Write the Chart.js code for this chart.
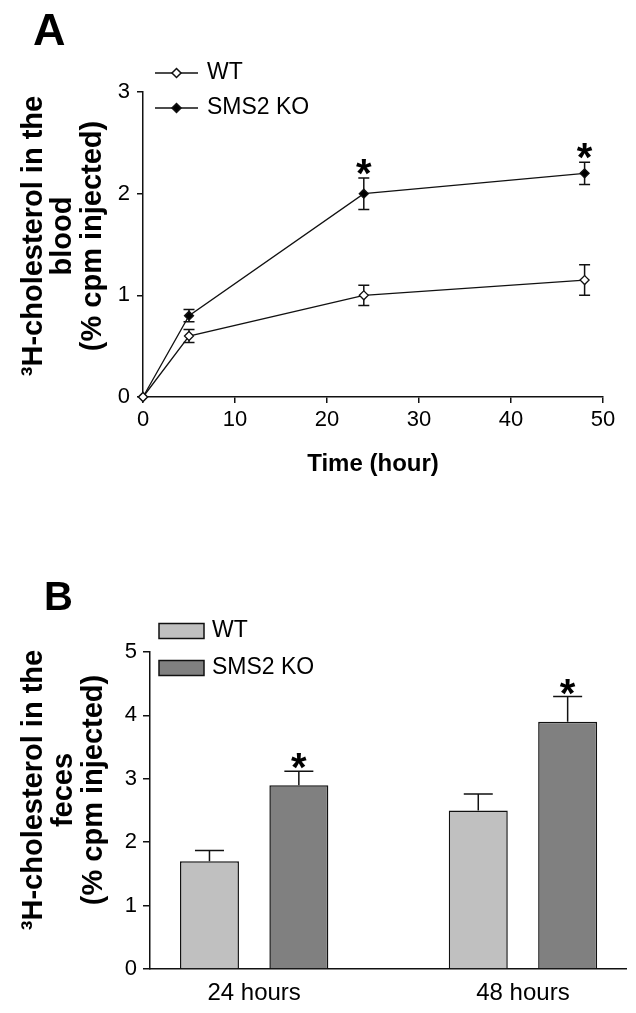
<!DOCTYPE html>
<html>
<head>
  <meta charset="UTF-8" />
  <title>3H-cholesterol in blood and feces</title>
  <script src="https://cdn.jsdelivr.net/npm/chart.js"></script>
  <style>
    body { margin: 0; background: #fff; }
    canvas { position: absolute; left: 0; }
    #chartA { top: 0; }
    #chartB { top: 560px; }
  </style>
</head>
<body>
  <canvas id="chartA" width="636" height="520"></canvas>
  <canvas id="chartB" width="636" height="453"></canvas>

  <script>
    // Panel A - label in the blood over time
    const hoursA = [0, 5, 24, 48];
    const wtBlood = [0, 0.6, 1.0, 1.15];
    const wtBloodErr = [0, 0.065, 0.1, 0.15];
    const koBlood = [0, 0.8, 2.0, 2.2];
    const koBloodErr = [0, 0.06, 0.155, 0.11];
    const koBloodSig = [false, false, true, true];

    // Panel B - label in the feces
    const categories = ['24 hours', '48 hours'];
    const hoursB = [24, 48];
    const wtFeces = [1.7, 2.5];
    const wtFecesErr = [0.17, 0.26];
    const koFeces = [2.9, 3.9];
    const koFecesErr = [0.22, 0.4];
    const koFecesSig = [true, true];

    const FONT = '"Liberation Sans", Arial, sans-serif';
    Chart.defaults.font.family = FONT;
    Chart.defaults.color = '#000';

    const ink = '#111';

    function points(xs, ys) {
      return xs.map((x, i) => ({ x: x, y: ys[i] }));
    }

    function diamond(ctx, x, y, r, fill) {
      ctx.beginPath();
      ctx.moveTo(x, y - r);
      ctx.lineTo(x + r, y);
      ctx.lineTo(x, y + r);
      ctx.lineTo(x - r, y);
      ctx.closePath();
      ctx.fillStyle = fill;
      ctx.fill();
      ctx.stroke();
    }

    // error bars, asterisks, legend, panel letter and y title
    const extras = {
      id: 'extras',
      beforeDatasetsDraw(chart, args, opts) {
        const ctx = chart.ctx;
        const yScale = chart.scales.y;
        chart.data.datasets.forEach((ds, i) => {
          if (!ds.errors) return;
          const meta = chart.getDatasetMeta(i);
          ctx.save();
          ctx.strokeStyle = ink;
          ctx.lineWidth = 1.5;
          meta.data.forEach((el, j) => {
            const e = ds.errors[j];
            const v = ds.data[j].y;
            const top = yScale.getPixelForValue(v + e);
            const bot = yScale.getPixelForValue(ds.oneSided ? v : v - e);
            const half = opts.capWidth / 2;
            if (e > 0) {
              ctx.beginPath();
              ctx.moveTo(el.x, top);
              ctx.lineTo(el.x, bot);
              ctx.moveTo(el.x - half, top);
              ctx.lineTo(el.x + half, top);
              if (!ds.oneSided) {
                ctx.moveTo(el.x - half, bot);
                ctx.lineTo(el.x + half, bot);
              }
              ctx.stroke();
            }
            if (ds.sig && ds.sig[j]) {
              ctx.fillStyle = '#000';
              ctx.font = 'bold ' + opts.starSize + 'px ' + FONT;
              ctx.textAlign = 'center';
              ctx.textBaseline = 'alphabetic';
              ctx.fillText('*', el.x, top - opts.starGap + 0.58 * opts.starSize);
            }
          });
          ctx.restore();
        });
      },
      afterDraw(chart, args, opts) {
        const ctx = chart.ctx;
        ctx.save();

        // panel letter
        ctx.fillStyle = '#000';
        ctx.font = 'bold ' + opts.letter.size + 'px ' + FONT;
        ctx.textAlign = 'left';
        ctx.textBaseline = 'alphabetic';
        ctx.fillText(opts.letter.text, opts.letter.x, opts.letter.y);

        // legend
        const lg = opts.legend;
        ctx.font = lg.size + 'px ' + FONT;
        ctx.textBaseline = 'middle';
        chart.data.datasets.forEach((ds, i) => {
          const y = lg.ys[i];
          ctx.strokeStyle = ink;
          ctx.lineWidth = 1.5;
          if (lg.kind === 'line') {
            ctx.beginPath();
            ctx.moveTo(lg.x, y);
            ctx.lineTo(lg.x + lg.w, y);
            ctx.stroke();
            diamond(ctx, lg.x + lg.w / 2, y, ds.pointRadius, ds.pointBackgroundColor);
          } else {
            ctx.fillStyle = ds.backgroundColor;
            ctx.fillRect(lg.x, y - lg.h / 2, lg.w, lg.h);
            ctx.strokeRect(lg.x, y - lg.h / 2, lg.w, lg.h);
          }
          ctx.fillStyle = '#000';
          ctx.fillText(ds.label, lg.x + lg.w + lg.gap, y);
        });

        // rotated multi-line y title
        const yt = opts.yTitle;
        ctx.font = 'bold ' + yt.size + 'px ' + FONT;
        ctx.textAlign = 'center';
        ctx.textBaseline = 'alphabetic';
        yt.lines.forEach((line, i) => {
          ctx.save();
          ctx.translate(yt.baselines[i], yt.cy);
          ctx.rotate(-Math.PI / 2);
          ctx.fillText(line, 0, 0);
          ctx.restore();
        });

        ctx.restore();
      }
    };

    const axisGrid = {
      drawOnChartArea: false,
      tickLength: 6,
      color: ink,
      lineWidth: 1.5
    };
    const axisBorder = { color: ink, width: 1.5 };

    new Chart(document.getElementById('chartA'), {
      type: 'line',
      data: {
        datasets: [
          {
            label: 'WT',
            data: points(hoursA, wtBlood),
            errors: wtBloodErr,
            borderColor: ink,
            borderWidth: 1.3,
            pointStyle: 'rectRot',
            pointRadius: 4.5,
            pointBackgroundColor: '#fff',
            pointBorderColor: ink,
            pointBorderWidth: 1.3,
            tension: 0,
            clip: false
          },
          {
            label: 'SMS2 KO',
            data: points(hoursA, koBlood),
            errors: koBloodErr,
            sig: koBloodSig,
            borderColor: ink,
            borderWidth: 1.3,
            pointStyle: 'rectRot',
            pointRadius: 4.5,
            pointBackgroundColor: '#000',
            pointBorderColor: ink,
            pointBorderWidth: 1.3,
            tension: 0,
            clip: false
          }
        ]
      },
      options: {
        responsive: false,
        animation: false,
        layout: { padding: { left: 0, top: 92, right: 33, bottom: 0 } },
        plugins: {
          legend: { display: false },
          tooltip: { enabled: false },
          extras: {
            capWidth: 11,
            starSize: 40,
            starGap: 14,
            letter: { text: 'A', x: 33, y: 45, size: 45 },
            legend: { kind: 'line', x: 155, w: 43, gap: 9, ys: [73, 108], size: 23 },
            yTitle: {
              lines: ['\u00b3H-cholesterol in the', 'blood', '(% cpm injected)'],
              baselines: [42, 71, 101],
              cy: 236,
              size: 29
            }
          }
        },
        scales: {
          x: {
            type: 'linear',
            min: 0,
            max: 50,
            ticks: { stepSize: 10, padding: 4, color: '#000', font: { size: 22 } },
            grid: axisGrid,
            border: axisBorder,
            title: {
              display: true,
              text: 'Time (hour)',
              color: '#000',
              font: { size: 24, weight: 'bold' },
              padding: { top: 0, bottom: 41 }
            },
            afterFit: (s) => { s.height = 123; }
          },
          y: {
            min: 0,
            max: 3,
            ticks: { stepSize: 1, padding: 7, color: '#000', font: { size: 22 } },
            grid: axisGrid,
            border: axisBorder,
            afterFit: (s) => { s.width = 143; }
          }
        }
      },
      plugins: [extras]
    });

    new Chart(document.getElementById('chartB'), {
      type: 'bar',
      data: {
        datasets: [
          {
            label: 'WT',
            data: points(hoursB, wtFeces),
            errors: wtFecesErr,
            oneSided: true,
            backgroundColor: '#c0c0c0',
            borderColor: ink,
            borderWidth: 1.5,
            categoryPercentage: 0.665,
            barPercentage: 0.66
          },
          {
            label: 'SMS2 KO',
            data: points(hoursB, koFeces),
            errors: koFecesErr,
            oneSided: true,
            sig: koFecesSig,
            backgroundColor: '#808080',
            borderColor: ink,
            borderWidth: 1.5,
            categoryPercentage: 0.665,
            barPercentage: 0.66
          }
        ]
      },
      options: {
        responsive: false,
        animation: false,
        layout: { padding: { left: 0, top: 92, right: 10, bottom: 0 } },
        plugins: {
          legend: { display: false },
          tooltip: { enabled: false },
          extras: {
            capWidth: 29,
            starSize: 40,
            starGap: 13,
            letter: { text: 'B', x: 44, y: 50, size: 40 },
            legend: { kind: 'box', x: 159, w: 45, h: 15, gap: 8, ys: [71, 108], size: 23 },
            yTitle: {
              lines: ['\u00b3H-cholesterol in the', 'feces', '(% cpm injected)'],
              baselines: [42, 72, 102],
              cy: 230,
              size: 29
            }
          }
        },
        scales: {
          x: {
            type: 'linear',
            offset: false,
            min: 14.7,
            max: 57.2,
            afterBuildTicks: (s) => { s.ticks = hoursB.map((v) => ({ value: v })); },
            ticks: {
              padding: 10,
              color: '#000',
              font: { size: 24 },
              callback: (v) => categories[hoursB.indexOf(v)]
            },
            grid: { offset: false, drawOnChartArea: false, drawTicks: false },
            border: axisBorder,
            afterFit: (s) => { s.height = 44; }
          },
          y: {
            min: 0,
            max: 5,
            ticks: { stepSize: 1, padding: 6, color: '#000', font: { size: 22 } },
            grid: Object.assign({}, axisGrid, { tickLength: 7 }),
            border: axisBorder,
            afterFit: (s) => { s.width = 150; }
          }
        }
      },
      plugins: [extras]
    });
  </script>
</body>
</html>
